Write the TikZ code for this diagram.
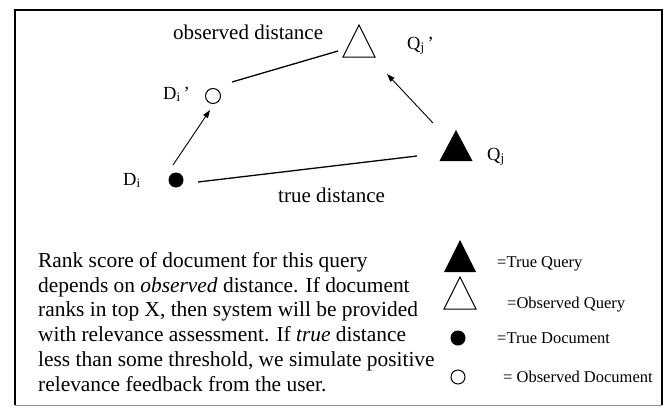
\documentclass[tikz,border=0pt]{standalone}
\usepackage{fontspec}
\setmainfont{Liberation Serif}
\usetikzlibrary{arrows.meta,calc}
\begin{document}
\begin{tikzpicture}[x=1pt,y=-1pt,
  frame/.style={line width=1.5pt},
  link/.style={line width=1.3pt},
  move/.style={line width=0.9pt,-{Triangle[length=8pt,width=5.5pt]}},
  hollow/.style={draw,line width=1pt,fill=white},
  solid/.style={fill=black},
  dotmark/.style={circle,inner sep=0pt,minimum size=15pt},
  lbl/.style={anchor=base west,inner sep=0pt,font=\fontsize{18.5}{20}\selectfont},
  big/.style={anchor=base west,inner sep=0pt,font=\fontsize{21}{25}\selectfont},
  para/.style={anchor=base west,inner sep=0pt,font=\fontsize{21.4}{25}\selectfont},
  key/.style={anchor=base west,inner sep=0pt,font=\fontsize{16.5}{20}\selectfont}]
\useasboundingbox (0,0) rectangle (667,408);

% frame
\draw[frame] (15,405) -- (15,10) -- (662,10) -- (662,405);
\draw[line width=0.6pt,black!45] (15,405) -- (662,405);

% points of the diagram
\node[dotmark,solid] (di) at (176,180) {};
\node[dotmark,hollow] (dio) at (213,96) {};
\coordinate (qo) at (359,41);
\coordinate (qt) at (456,146);
\fill ([shift={(0,-16)}]qt) -- ([shift={(16.5,15)}]qt) -- ([shift={(-16.5,15)}]qt) -- cycle;
\draw[line width=1pt] ([shift={(0,-16)}]qo) -- ([shift={(16,16)}]qo) -- ([shift={(-16,16)}]qo) -- cycle;

% ends of the connectors
\coordinate (a1) at (232,82);
\coordinate (a2) at (338,51);
\coordinate (t1) at (198,182);
\coordinate (t2) at (417,156);
\coordinate (m1) at (173,165);
\coordinate (m2) at (210,110);
\coordinate (n1) at (433,123);
\coordinate (n2) at (387,74);

\draw[link] (a1) -- (a2);
\draw[link] (t1) -- (t2);
\draw[move] (m1) -- (m2);
\draw[move] (n1) -- (n2);

% labels
\node[big] (obs) at (173,39) {observed distance};
\node[big] (tru) at (278,202) {true distance};
\node[lbl] (ldio) at (163,99) {D\textsubscript{i}\,’};
\node[lbl] (ldi) at (123,185) {D\textsubscript{i}};
\node[lbl] (lqo) at (407,49) {Q\textsubscript{j}\,’};
\node[lbl] (lqt) at (487,160) {Q\textsubscript{j}};

% explanation
\node[para] (e1) at (38,267) {Rank score of document for this query};
\node[para] (e2) at (38,292) {depends on \textit{observed} distance. If document};
\node[para] (e3) at (38,316) {ranks in top X, then system will be provided};
\node[para] (e4) at (38,341) {with relevance assessment. If \textit{true} distance};
\node[para] (e5) at (38,366) {less than some threshold, we simulate positive};
\node[para] (e6) at (38,391) {relevance feedback from the user.};

% legend
\coordinate (k1) at (460,256);
\coordinate (k2) at (460,293);
\fill ([shift={(0,-16)}]k1) -- ([shift={(16,16)}]k1) -- ([shift={(-16,16)}]k1) -- cycle;
\draw[line width=1pt] ([shift={(0,-16)}]k2) -- ([shift={(16,16)}]k2) -- ([shift={(-16,16)}]k2) -- cycle;
\node[dotmark,solid] (k3) at (458,338) {};
\node[dotmark,hollow,minimum size=14pt] (k4) at (458,377) {};
\node[key] (w1) at (497,267) {=True Query};
\node[key] (w2) at (507,308) {=Observed Query};
\node[key] (w3) at (497,343) {=True Document};
\node[key] (w4) at (503,382) {= Observed Document};
\end{tikzpicture}
\end{document}
